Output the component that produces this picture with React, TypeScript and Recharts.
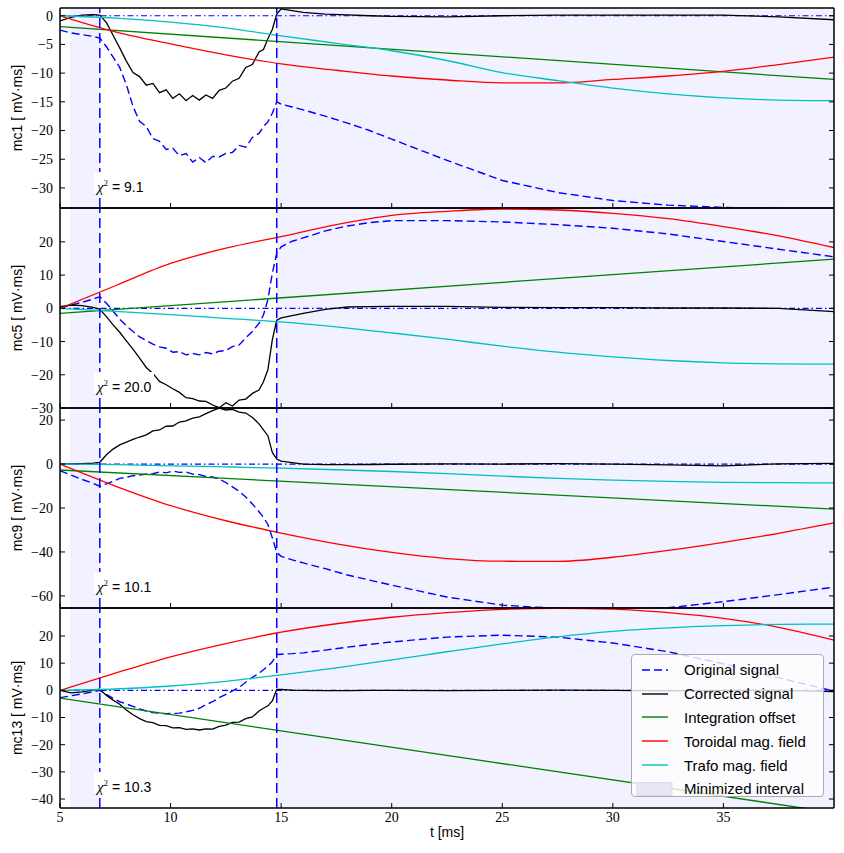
import React from 'react'
import { LineChart, Line, XAxis, YAxis, ReferenceArea, ReferenceLine, Legend, Label } from 'recharts'

// time grids [ms]
const T = [
  5, 5.5, 6, 6.5, 6.8, 7.1, 7.4, 7.7, 8, 8.3, 8.6, 8.9, 9.2, 9.5, 9.8, 10.1, 10.4, 10.7, 11, 11.3,
  11.6, 11.9, 12.2, 12.5, 12.8, 13.1, 13.4, 13.7, 14, 14.2, 14.4, 14.6, 14.8, 15, 15.5, 16, 17, 18,
  19, 20, 22.5, 25, 27.5, 30, 32.5, 35, 37.5, 40,
]
const TS = [5, 7.5, 10, 12.5, 15, 17.5, 20, 22.5, 25, 27.5, 30, 32.5, 35, 37.5, 40]
const TE = [5, 40]

const xTicks = [5, 10, 15, 20, 25, 30, 35]
const cutStart = 5.45
const cutLeft = 6.8
const cutRight = 14.8
const tEnd = 40

// mc1
const mc1Original = [
  -2.5, -3.0, -3.3, -3.6, -3.9, -5.4, -7.2, -9.0, -12.0, -15.8, -18.4, -19.3, -21.4, -21.9, -23.3, -23.1, -24.4, -24.0, -25.5, -24.7,
  -25.6, -24.5, -24.6, -24.0, -23.8, -22.6, -22.9, -21.2, -20.5, -19.3, -18.5, -17.0, -15.0, -15.4, -15.9, -16.4, -17.5, -18.7,
  -20.0, -21.5, -25.2, -28.7, -30.8, -32.2, -33.0, -33.4, -33.6, -34.5,
]
const mc1Corrected = [
  -0.9, -0.3, 0.1, 0.2, 0.1, -1.2, -3.4, -5.6, -7.9, -9.9, -10.6, -12.1, -11.8, -13.4, -12.9, -14.4, -13.6, -14.8, -13.9, -14.7,
  -13.8, -14.4, -13.0, -12.6, -11.4, -10.9, -9.0, -8.5, -6.3, -5.9, -4.0, -2.4, 0.3, 1.2, 0.9, 0.6, 0.3, 0.15,
  0.0, -0.1, -0.2, 0.0, 0.1, 0.1, 0.1, 0.1, -0.2, -0.7,
]
const mc1Offset = [-1.9, -11.1]
const mc1Toroidal = [0, -2.8, -4.9, -6.8, -8.4, -9.5, -10.5, -11.2, -11.7, -11.7, -11.1, -10.5, -9.7, -8.5, -7.2]
const mc1Trafo = [0, -0.4, -1.1, -2.1, -3.5, -4.8, -6.1, -7.8, -9.9, -11.3, -12.6, -13.6, -14.3, -14.7, -14.8]

// mc5
const mc5Original = [
  0.0, 1.0, 1.8, 2.8, 3.5, 1.5, -0.8, -3.3, -5.2, -7.0, -8.6, -9.7, -10.8, -11.6, -12.0, -13.2, -13.0, -14.0, -13.6, -14.0,
  -13.3, -13.7, -12.9, -12.7, -11.5, -11.0, -8.9, -7.0, -4.5, -2.0, 2.6, 10.5, 16.6, 18.5, 20.2, 21.2, 23.3, 24.8,
  25.8, 26.4, 26.4, 26.0, 25.2, 24.1, 22.4, 20.1, 17.8, 15.5,
]
const mc5Corrected = [
  0.5, 1.0, 0.8, 0.3, -0.3, -2.5, -5.0, -7.2, -9.8, -12.3, -15.0, -17.8, -19.6, -22.0, -23.0, -24.2, -25.3, -26.9, -27.2, -27.9,
  -28.0, -29.1, -29.9, -28.4, -29.4, -27.6, -27.3, -25.6, -24.6, -22.1, -18.5, -9.5, -3.6, -2.9, -2.2, -1.5, -0.3, 0.4,
  0.5, 0.6, 0.6, 0.3, 0.2, 0.2, 0.1, 0.1, 0.0, -1.0,
]
const mc5Offset = [-1.5, 14.8]
const mc5Toroidal = [0, 6.8, 13.5, 18.1, 21.6, 25.2, 28.0, 29.2, 29.9, 29.6, 28.6, 27.0, 24.6, 21.8, 18.3]
const mc5Trafo = [0, -0.9, -1.9, -3.0, -4.1, -5.6, -7.4, -9.3, -11.4, -13.2, -14.6, -15.7, -16.4, -16.7, -16.8]

// mc9
const mc9Original = [
  -3.0, -5.0, -7.0, -8.8, -10.1, -9.0, -7.9, -6.5, -6.0, -5.3, -5.0, -4.6, -4.4, -3.6, -4.0, -3.2, -3.8, -3.6, -4.6, -4.8,
  -5.7, -5.9, -6.8, -8.4, -10.4, -12.4, -15.0, -18.2, -21.7, -24.2, -27.5, -33.5, -40.2, -42.0, -43.6, -45.0, -47.6, -50.5,
  -52.8, -55.1, -60.5, -64.2, -65.7, -66.5, -65.4, -62.6, -59.4, -56.0,
]
const mc9Corrected = [
  0.0, 0.1, 0.2, 0.4, 0.8, 4.2, 6.8, 8.7, 10.0, 11.2, 12.3, 13.3, 15.1, 15.5, 17.2, 17.3, 19.1, 19.6, 20.9, 21.5,
  22.9, 24.3, 25.4, 24.6, 24.9, 23.6, 23.2, 21.2, 18.3, 15.5, 12.9, 5.3, 2.3, 1.3, 0.6, 0.0, -0.3, -0.3,
  -0.2, -0.1, 0.1, 0.0, 0.2, 0.0, -0.4, -0.8, 0.1, 0.3,
]
const mc9Offset = [-2.7, -20.5]
const mc9Toroidal = [0, -10.0, -18.9, -25.8, -31.4, -36.3, -40.2, -43.0, -44.2, -44.3, -42.4, -39.3, -35.6, -31.5, -26.8]
const mc9Trafo = [0, -0.3, -0.8, -1.3, -1.9, -2.6, -3.4, -4.4, -5.5, -6.5, -7.3, -7.9, -8.3, -8.5, -8.6]

// mc13
const mc13Original = [
  -2.7, -2.0, -1.3, -0.5, 0.0, -1.5, -3.0, -4.2, -5.0, -5.9, -6.8, -7.6, -8.2, -8.4, -8.6, -8.5, -8.4, -7.9, -7.4, -6.6,
  -5.3, -4.2, -2.7, -1.5, -0.2, 1.1, 3.0, 4.8, 6.3, 7.6, 8.9, 10.5, 13.2, 13.3, 13.5, 13.8, 14.8, 15.9,
  16.9, 17.8, 19.6, 20.3, 19.6, 17.4, 14.2, 9.8, 4.6, -0.3,
]
const mc13Corrected = [
  0.0, -0.9, -0.6, 0.1, 0.4, -1.9, -3.6, -5.1, -7.2, -9.0, -10.4, -11.5, -11.9, -12.9, -13.0, -13.8, -13.7, -14.4, -14.2, -14.6,
  -14.2, -14.3, -13.3, -12.8, -11.8, -11.7, -10.4, -9.8, -7.6, -6.6, -5.7, -3.9, 0.3, 0.3, 0.1, 0.0, -0.1, -0.1,
  0.0, 0.0, -0.1, 0.0, 0.1, 0.0, -0.2, 0.0, 0.0, -0.5,
]
const mc13Offset = [-2.9, -45.0]
const mc13Toroidal = [0, 6.3, 12.3, 17.2, 21.4, 24.5, 26.9, 28.6, 29.8, 30.2, 29.9, 28.6, 26.5, 23.2, 18.5]
const mc13Trafo = [0, 0.5, 1.6, 3.3, 5.7, 8.3, 11.2, 14.2, 17.1, 19.7, 21.7, 23.0, 23.8, 24.3, 24.4]

const chi2 = ['9.1', '20.0', '10.1', '10.3']

const BLUE = '#0000ff'
const GREEN = '#008000'
const RED = '#ff0000'
const CYAN = '#00bfbf'
const SHADE = '#0000ff'

const zip = (xs: number[], ys: number[]) => xs.map((t, i) => ({ t, v: ys[i] }))
const minus = (v: number) => String(v).replace('-', '\u2212')

type PanelDef = {
  name: string
  domain: [number, number]
  ticks: number[]
  original: number[]
  corrected: number[]
  offset: number[]
  toroidal: number[]
  trafo: number[]
}

const panels: PanelDef[] = [
  { name: 'mc1', domain: [-33.5, 1.35], ticks: [-30, -25, -20, -15, -10, -5, 0], original: mc1Original, corrected: mc1Corrected, offset: mc1Offset, toroidal: mc1Toroidal, trafo: mc1Trafo },
  { name: 'mc5', domain: [-30, 30.2], ticks: [-30, -20, -10, 0, 10, 20], original: mc5Original, corrected: mc5Corrected, offset: mc5Offset, toroidal: mc5Toroidal, trafo: mc5Trafo },
  { name: 'mc9', domain: [-65.5, 25.5], ticks: [-60, -40, -20, 0, 20], original: mc9Original, corrected: mc9Corrected, offset: mc9Offset, toroidal: mc9Toroidal, trafo: mc9Trafo },
  { name: 'mc13', domain: [-43.3, 30.3], ticks: [-40, -30, -20, -10, 0, 10, 20], original: mc13Original, corrected: mc13Corrected, offset: mc13Offset, toroidal: mc13Toroidal, trafo: mc13Trafo },
]

const legendItems = [
  { label: 'Original signal', color: BLUE, dash: '8 4' },
  { label: 'Corrected signal', color: '#000', dash: '' },
  { label: 'Integration offset', color: GREEN, dash: '' },
  { label: 'Toroidal mag. field', color: RED, dash: '' },
  { label: 'Trafo mag. field', color: CYAN, dash: '' },
]

const serif = 'Liberation Serif, DejaVu Serif, serif'
const sans = 'Liberation Sans, Arial, sans-serif'
const tickFont = { fontFamily: serif, fontSize: 14, fill: '#000' }
const noTick = () => null

function LegendBox() {
  return (
    <div
      style={{
        width: 193, height: 143, background: 'rgba(255,255,255,0.8)', border: '1px solid #aaa',
        borderRadius: 4, boxSizing: 'border-box', paddingTop: 3, fontFamily: sans, fontSize: 15, color: '#000',
      }}
    >
      {legendItems.map((it) => (
        <div key={it.label} style={{ height: 23.8, display: 'flex', alignItems: 'center' }}>
          <svg width={52} height={10} style={{ flex: 'none' }}>
            <line x1={10} x2={36} y1={5} y2={5} stroke={it.color} strokeWidth={1.4} strokeDasharray={it.dash || undefined} />
          </svg>
          <span>{it.label}</span>
        </div>
      ))}
      <div style={{ height: 23.8, display: 'flex', alignItems: 'center' }}>
        <svg width={52} height={14} style={{ flex: 'none' }}>
          <rect x={5} y={0.5} width={35} height={13} fill="#e6e6f8" stroke="#dcdcf2" />
        </svg>
        <span>Minimized interval</span>
      </div>
    </div>
  )
}

function Panel({ p, index }: { p: PanelDef; index: number }) {
  const last = index === panels.length - 1
  const bottomH = last ? 44 : 8
  const top = 8 + 200 * index - 1
  const frame = { stroke: '#000', strokeWidth: 1.5 }
  const tl = { stroke: '#000', strokeWidth: 1 }
  return (
    <div style={{ position: 'absolute', left: 0, top, width: 844 }}>
      <LineChart width={844} height={1 + 200 + bottomH} margin={{ top: 0, right: 9, bottom: 0, left: 0 }}>
        <XAxis
          xAxisId="b" dataKey="t" type="number" domain={[5, tEnd]} ticks={xTicks} allowDataOverflow
          orientation="bottom" height={bottomH} tickSize={-5} tickMargin={9}
          axisLine={frame} tickLine={tl} tick={last ? tickFont : noTick}
        >
          {last && <Label value="t [ms]" position="insideBottom" offset={15} style={{ fontFamily: sans, fontSize: 14, fill: '#000' }} />}
        </XAxis>
        <XAxis
          xAxisId="top" type="number" domain={[5, tEnd]} ticks={xTicks} allowDataOverflow orientation="top"
          height={1} tickSize={-5} axisLine={frame} tickLine={tl} tick={noTick}
        />
        <YAxis
          yAxisId="l" type="number" domain={p.domain} ticks={p.ticks} allowDataOverflow width={60}
          tickSize={-5} tickMargin={12} axisLine={frame} tickLine={tl} tick={tickFont} tickFormatter={minus}
          interval={0}
        />
        <YAxis
          yAxisId="r" type="number" orientation="right" domain={p.domain} ticks={p.ticks} allowDataOverflow
          width={1} tickSize={-5} axisLine={frame} tickLine={tl} tick={noTick} interval={0}
        />
        <ReferenceArea xAxisId="b" yAxisId="l" x1={cutStart} x2={cutLeft} fill={SHADE} fillOpacity={0.055} stroke="none" />
        <ReferenceArea xAxisId="b" yAxisId="l" x1={cutRight} x2={tEnd} fill={SHADE} fillOpacity={0.055} stroke="none" />
        <ReferenceLine xAxisId="b" yAxisId="l" y={0} stroke={BLUE} strokeWidth={1.2} strokeDasharray="6 3 1.5 3" />
        <Line xAxisId="b" yAxisId="l" data={zip(T, p.original)} dataKey="v" type="linear" stroke={BLUE} strokeWidth={1.4} strokeDasharray="8 4" dot={false} isAnimationActive={false} />
        <Line xAxisId="b" yAxisId="l" data={zip(T, p.corrected)} dataKey="v" type="linear" stroke="#000" strokeWidth={1.3} dot={false} isAnimationActive={false} />
        <Line xAxisId="b" yAxisId="l" data={zip(TE, p.offset)} dataKey="v" type="linear" stroke={GREEN} strokeWidth={1.3} dot={false} isAnimationActive={false} />
        <Line xAxisId="b" yAxisId="l" data={zip(TS, p.toroidal)} dataKey="v" type="monotone" stroke={RED} strokeWidth={1.3} dot={false} isAnimationActive={false} />
        <Line xAxisId="b" yAxisId="l" data={zip(TS, p.trafo)} dataKey="v" type="monotone" stroke={CYAN} strokeWidth={1.3} dot={false} isAnimationActive={false} />
        <ReferenceLine xAxisId="b" yAxisId="l" x={cutLeft} stroke={BLUE} strokeWidth={1.5} strokeDasharray="10 5" />
        <ReferenceLine xAxisId="b" yAxisId="l" x={cutRight} stroke={BLUE} strokeWidth={1.5} strokeDasharray="10 5" />
        {last && (
          <Legend
            layout="horizontal" verticalAlign="middle" align="center"
            content={() => <LegendBox />}
            wrapperStyle={{ left: 631, top: 654 - top, width: 193, height: 143 }}
          />
        )}
      </LineChart>
      <div
        style={{
          position: 'absolute', left: 17, top: 101, transform: 'translate(-50%, -50%) rotate(-90deg)',
          whiteSpace: 'nowrap', fontFamily: sans, fontSize: 14, color: '#000',
        }}
      >
        {p.name} [ mV·ms]
      </div>
      <div
        style={{
          position: 'absolute', left: 94, top: 165, height: 21, padding: '0 3px', background: '#fff',
          whiteSpace: 'nowrap', fontFamily: sans, fontSize: 14, color: '#000', lineHeight: '22px',
        }}
      >
        <span style={{ fontFamily: serif, fontStyle: 'italic', fontSize: 15 }}>χ</span>
        <sup style={{ fontFamily: serif, fontSize: 9 }}>2</sup> = {chi2[index]}
      </div>
    </div>
  )
}

export default function App() {
  return (
    <div style={{ position: 'absolute', left: 0, top: 0, width: 844, height: 853, background: '#fff', overflow: 'hidden' }}>
      {panels.map((p, i) => (
        <Panel key={p.name} p={p} index={i} />
      ))}
    </div>
  )
}
